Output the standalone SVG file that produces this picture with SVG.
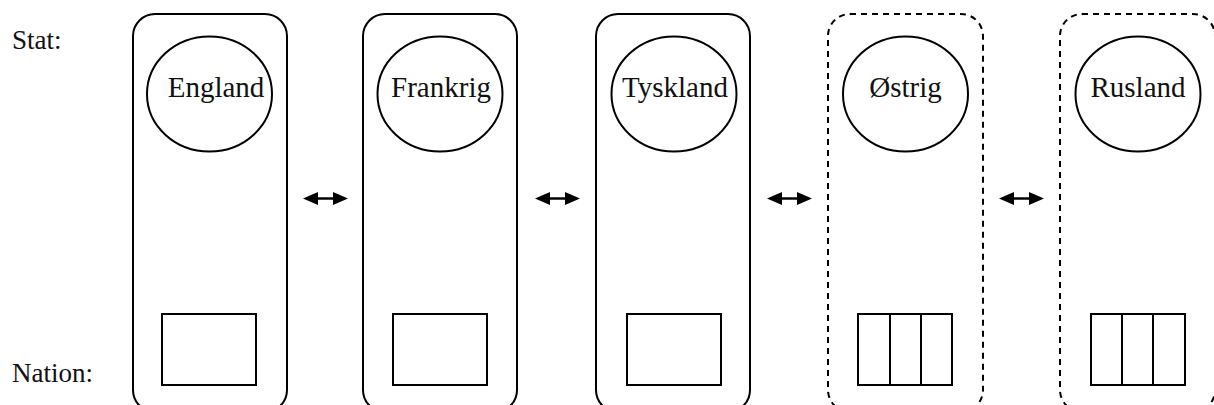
<svg xmlns="http://www.w3.org/2000/svg" width="1214" height="405" viewBox="0 0 1214 405">
<defs>
<style>
.box{fill:none;stroke:#000;stroke-width:2}
.dash{stroke-dasharray:6 5}
.st{fill:none;stroke:#000;stroke-width:2}
.nat{fill:none;stroke:#000;stroke-width:2}
.lbl{font-family:"Liberation Serif",serif;font-size:27px;fill:#111}
.cl{font-family:"Liberation Serif",serif;font-size:29px;fill:#111;text-anchor:middle}
.con{stroke:#000;stroke-width:2.5;fill:none;marker-start:url(#ah);marker-end:url(#ah)}
</style>
<marker id="ah" viewBox="0 0 15 13" refX="3" refY="6.5" markerUnits="userSpaceOnUse" markerWidth="15" markerHeight="13" orient="auto-start-reverse">
<path d="M0,0 L15,6.5 L0,13 Z" fill="#000"/>
</marker>
</defs>
<rect width="1214" height="405" fill="#fff"/>
<text class="lbl" x="12" y="49">Stat:</text>
<text class="lbl" x="12" y="382">Nation:</text>
<g id="england">
<rect class="box" x="133" y="14" width="154" height="398" rx="22"/>
<ellipse class="st" cx="209.5" cy="94" rx="62.5" ry="57.5"/>
<text class="cl" x="216" y="97">England</text>
<rect class="nat" x="162" y="314" width="94" height="71"/>
</g>
<g id="frankrig">
<rect class="box" x="363" y="14" width="154" height="398" rx="22"/>
<ellipse class="st" cx="440" cy="94" rx="62.5" ry="57.5"/>
<text class="cl" x="441" y="97">Frankrig</text>
<rect class="nat" x="393" y="314" width="94" height="71"/>
</g>
<g id="tyskland">
<rect class="box" x="596" y="14" width="154" height="398" rx="22"/>
<ellipse class="st" cx="674" cy="94" rx="62.5" ry="57.5"/>
<text class="cl" x="675" y="97">Tyskland</text>
<rect class="nat" x="627" y="314" width="94" height="71"/>
</g>
<g id="oestrig">
<rect class="box dash" x="828" y="14" width="155" height="398" rx="22"/>
<ellipse class="st" cx="905.5" cy="94" rx="62.5" ry="57.5"/>
<text class="cl" x="905.5" y="97">Østrig</text>
<rect class="nat" x="858" y="314" width="94" height="71"/>
<line class="nat" x1="890" y1="314" x2="890" y2="385"/>
<line class="nat" x1="921" y1="314" x2="921" y2="385"/>
</g>
<g id="rusland">
<rect class="box dash" x="1060" y="14" width="155" height="398" rx="22"/>
<ellipse class="st" cx="1138" cy="94" rx="62.5" ry="57.5"/>
<text class="cl" x="1138" y="97">Rusland</text>
<rect class="nat" x="1091" y="314" width="94" height="71"/>
<line class="nat" x1="1122" y1="314" x2="1122" y2="385"/>
<line class="nat" x1="1153" y1="314" x2="1153" y2="385"/>
</g>
<g id="connectors">
<line class="con" x1="315" y1="198.5" x2="336" y2="198.5"/>
<line class="con" x1="547" y1="198.5" x2="568" y2="198.5"/>
<line class="con" x1="779" y1="198.5" x2="800" y2="198.5"/>
<line class="con" x1="1011" y1="198.5" x2="1032" y2="198.5"/>
</g>
</svg>
